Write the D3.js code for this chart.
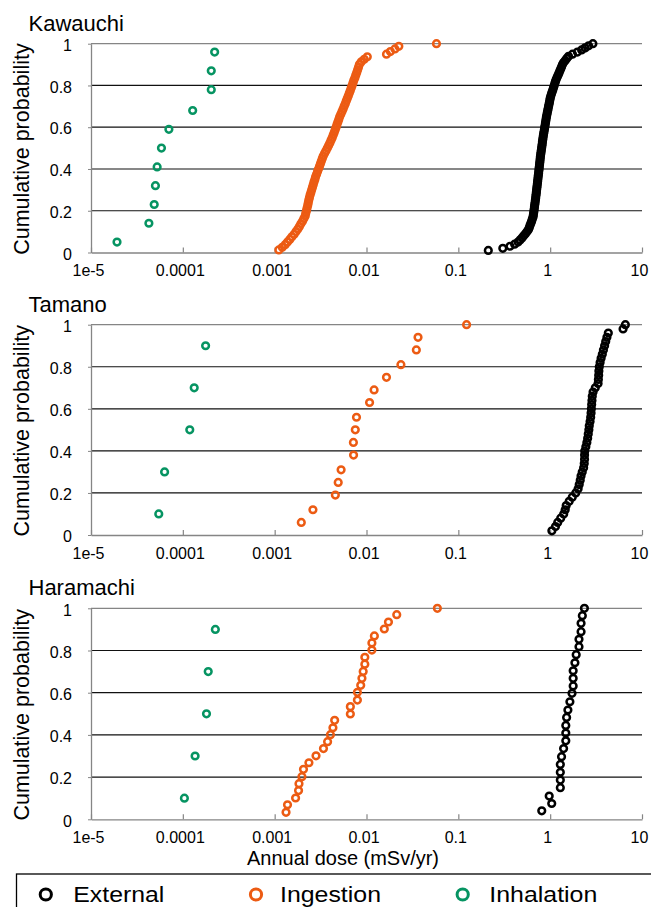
<!DOCTYPE html>
<html>
<head>
<meta charset="utf-8">
<script src="https://cdn.jsdelivr.net/npm/d3@7"></script>
<style>
  body { margin: 0; background: #fff; }
  text { font-family: "Liberation Sans", Arial, sans-serif; }
</style>
</head>
<body>
<script>
// axis ticks and labels
const xTicks = [1e-5, 1e-4, 1e-3, 0.01, 0.1, 1, 10];
const xTickLabels = ["1e-5", "0.0001", "0.001", "0.01", "0.1", "1", "10"];
const yTicks = [0, 0.2, 0.4, 0.6, 0.8, 1];
const yTickLabels = ["0", "0.2", "0.4", "0.6", "0.8", "1"];

const sites = ["Kawauchi", "Tamano", "Haramachi"];
const pathways = ["External", "Ingestion", "Inhalation"];
const pathwayColors = ["#000000", "#ec5b13", "#069462"];

// ---- Kawauchi (dense series: cumulative probability comes from the rank)
const kawauchiExternal = [
  0.212,0.305,0.365,0.41,0.447,0.47,0.493,0.515,0.538,0.561,
  0.581,0.593,0.604,0.616,0.628,0.639,0.651,0.656,0.661,0.666,
  0.671,0.675,0.680,0.685,0.690,0.695,0.699,0.704,0.708,0.712,
  0.717,0.721,0.726,0.730,0.734,0.739,0.743,0.748,0.752,0.757,
  0.761,0.766,0.770,0.775,0.779,0.783,0.789,0.795,0.801,0.807,
  0.813,0.819,0.824,0.830,0.836,0.843,0.850,0.858,0.866,0.873,
  0.881,0.888,0.896,0.904,0.911,0.921,0.931,0.941,0.951,0.961,
  0.972,0.982,0.992,1.002,1.015,1.034,1.052,1.07,1.088,1.107,
  1.125,1.143,1.165,1.193,1.221,1.248,1.276,1.304,1.332,1.36,
  1.40,1.46,1.52,1.585,1.75,1.98,2.2,2.4,2.62,2.92];
const kawauchiIngestion = [
  0.00111,0.00121,0.00130,0.00138,0.00146,0.00154,0.00163,0.00171,0.00179,0.00186,
  0.00193,0.00201,0.00208,0.00215,0.00218,0.00222,0.00225,0.00229,0.00232,0.00235,
  0.00239,0.00243,0.00248,0.00253,0.00258,0.00263,0.00268,0.00274,0.00279,0.00286,
  0.00293,0.00300,0.00308,0.00315,0.00322,0.00330,0.00338,0.00350,0.00362,0.00375,
  0.00387,0.00399,0.00411,0.00423,0.00434,0.00445,0.00456,0.00467,0.00477,0.00488,
  0.00499,0.00510,0.00525,0.00541,0.00556,0.00571,0.00587,0.00602,0.00617,0.00633,
  0.00649,0.00665,0.00681,0.00697,0.00713,0.00728,0.00748,0.00765,0.00783,0.00801,
  0.00818,0.00836,0.00874,0.00945,0.0102,0.0165,0.0182,0.0204,0.0225,0.0578];
const kawauchiInhalation = [1.92e-5,4.27e-5,4.88e-5,5.03e-5,5.25e-5,5.85e-5,7.05e-5,1.28e-4,2.04e-4,2.04e-4,2.22e-4];
const kawauchiInhalationProb = [0.05,0.14,0.23,0.32,0.41,0.50,0.59,0.68,0.78,0.87,0.96];

// ---- Tamano
const tamanoExternal = [
  1.044,1.143,1.208,1.302,1.404,1.458,1.495,1.612,1.739,1.898,
  2.016,2.072,2.125,2.168,2.234,2.314,2.350,2.368,2.370,2.380,
  2.447,2.509,2.560,2.599,2.639,2.666,2.720,2.761,2.789,2.810,
  2.831,2.852,2.874,2.932,3.099,3.324,3.349,3.375,3.392,3.427,
  3.497,3.586,3.696,3.800,3.916,4.025,4.149,4.297,6.220,6.590];
const tamanoIngestion = [0.00195,0.00261,0.00458,0.00492,0.00529,0.00723,0.0072,0.00755,0.00778,0.0108,0.0121,0.0165,0.0237,0.0349,0.0364,0.123];
const tamanoIngestionProb = [0.06,0.12,0.19,0.25,0.31,0.38,0.44,0.50,0.56,0.63,0.69,0.75,0.81,0.88,0.94,1.0];
const tamanoInhalation = [5.47e-5,6.33e-5,1.19e-4,1.33e-4,1.77e-4];
const tamanoInhalationProb = [0.1,0.3,0.5,0.7,0.9];

// ---- Haramachi
const haramachiExternal = [0.81,1.04,0.976,1.29,1.29,1.29,1.29,1.33,1.40,1.48,1.48,1.48,1.51,1.56,1.64,1.73,1.78,1.78,1.78,1.86,1.92,2.06,2.06,2.17,2.17,2.24,2.36];
const haramachiExternalProb = [0.04,0.075,0.11,0.15,0.186,0.223,0.26,0.297,0.335,0.372,0.409,0.445,0.483,0.518,0.557,0.597,0.632,0.668,0.704,0.742,0.78,0.818,0.853,0.889,0.929,0.965,1.0];
const haramachiIngestion = [0.00133,0.00138,0.00169,0.00182,0.00184,0.00198,0.00206,0.00236,0.00282,0.0034,0.00377,0.00405,0.00431,0.0045,0.00667,0.00667,0.00796,0.00796,0.00865,0.00892,0.0092,0.00959,0.00959,0.01145,0.01145,0.01218,0.01563,0.01734,0.02135,0.0591];
const haramachiIngestionProb = [0.033,0.069,0.101,0.136,0.169,0.202,0.237,0.268,0.301,0.335,0.368,0.401,0.434,0.469,0.499,0.534,0.565,0.602,0.635,0.668,0.701,0.735,0.768,0.802,0.836,0.869,0.902,0.935,0.97,1.0];
const haramachiInhalation = [1.04e-4,1.36e-4,1.81e-4,1.89e-4,2.26e-4];
const haramachiInhalationProb = [0.1,0.3,0.5,0.7,0.9];

// empirical cumulative probability (rank / n) for the sorted dense series
function rankProb(doses){
  return doses.map(function(d, i){ return (i + 1) / doses.length; });
}
function pairs(doses, probs){
  return doses.map(function(d, i){ return {dose: d, p: probs[i]}; });
}

const panelData = [
  [pairs(kawauchiExternal, rankProb(kawauchiExternal)),
   pairs(kawauchiIngestion, rankProb(kawauchiIngestion)),
   pairs(kawauchiInhalation, kawauchiInhalationProb)],
  [pairs(tamanoExternal, rankProb(tamanoExternal)),
   pairs(tamanoIngestion, tamanoIngestionProb),
   pairs(tamanoInhalation, tamanoInhalationProb)],
  [pairs(haramachiExternal, haramachiExternalProb),
   pairs(haramachiIngestion, haramachiIngestionProb),
   pairs(haramachiInhalation, haramachiInhalationProb)]
];

// layout
const W = 651, H = 907;
const panelTop = [43.7, 324.7, 608.3];
const panelBottom = [252.5, 535, 819.3];
const axisGray = "#858585";

const svg = d3.select("body").append("svg")
    .attr("width", W)
    .attr("height", H);

const x = d3.scaleLog().domain([1e-5, 10]).range([91, 642]);

panelData.forEach(function(series, k){
  const y = d3.scaleLinear().domain([0, 1]).range([panelBottom[k], panelTop[k]]);
  const g = svg.append("g");

  //gridlines (inner ones black, top one gray)
  g.selectAll(".grid").data(yTicks.slice(1)).enter().append("line")
      .attr("x1", x.range()[0]).attr("x2", x.range()[1])
      .attr("y1", function(d){ return y(d); })
      .attr("y2", function(d){ return y(d); })
      .attr("stroke", function(d){ return d === 1 ? axisGray : "#111"; })
      .attr("stroke-width", 1.2);

  //x axis, ticks pointing up into the plot
  const xAxis = g.append("g")
      .attr("transform", "translate(0," + y(0) + ")")
      .call(d3.axisBottom(x)
          .tickValues(xTicks)
          .tickFormat(function(d, i){ return xTickLabels[i]; })
          .tickSizeInner(-5)
          .tickSizeOuter(0)
          .tickPadding(12.6));
  xAxis.select(".domain").attr("stroke", axisGray).attr("stroke-width", 1.3);
  xAxis.selectAll(".tick line").attr("stroke", axisGray).attr("stroke-width", 1.2);
  xAxis.selectAll(".tick text")
      .attr("font-size", 16)
      .attr("font-family", "Liberation Sans, Arial, sans-serif")
      .attr("fill", "#000")
      .attr("dx", -3);

  //y axis
  const yAxis = g.append("g")
      .attr("transform", "translate(" + x.range()[0] + ",0)")
      .call(d3.axisLeft(y)
          .tickValues(yTicks)
          .tickFormat(function(d, i){ return yTickLabels[i]; })
          .tickSizeInner(3)
          .tickSizeOuter(0)
          .tickPadding(16));
  yAxis.select(".domain").attr("stroke", axisGray).attr("stroke-width", 1.3);
  yAxis.selectAll(".tick line").attr("stroke", axisGray);
  yAxis.selectAll(".tick text")
      .attr("font-size", 16)
      .attr("font-family", "Liberation Sans, Arial, sans-serif")
      .attr("fill", "#000")
      .attr("dy", "0.42em");

  //y axis title
  svg.append("text")
      .attr("transform", "translate(29," + ((panelTop[k] + panelBottom[k]) / 2 + 1) + ") rotate(-90)")
      .attr("text-anchor", "middle")
      .attr("font-size", 21.5)
      .text("Cumulative probability");

  //site title
  svg.append("text")
      .attr("x", 28.5)
      .attr("y", panelTop[k] - 13)
      .attr("font-size", 22)
      .text(sites[k]);

  //the markers: open circles
  series.forEach(function(points, s){
    g.append("g").selectAll("circle").data(points).enter().append("circle")
        .attr("cx", function(d){ return x(d.dose); })
        .attr("cy", function(d){ return y(d.p); })
        .attr("r", 3.35)
        .attr("fill", "none")
        .attr("stroke", pathwayColors[s])
        .attr("stroke-width", 2.5);
  });
});

// x axis title (only under the last panel)
svg.append("text")
    .attr("x", 247)
    .attr("y", 865)
    .attr("font-size", 19.5)
    .attr("textLength", 192)
    .attr("lengthAdjust", "spacingAndGlyphs")
    .text("Annual dose (mSv/yr)");

// legend box, cut by the right and bottom edges like the reference
const legendMarkerX = [45.8, 256, 462.7];
const legendTextX = [73.3, 280, 489.3];
const legendTextLen = [91, 101, 108];

svg.append("rect")
    .attr("x", 16.5).attr("y", 874)
    .attr("width", 700).attr("height", 60)
    .attr("fill", "none")
    .attr("stroke", "#000")
    .attr("stroke-width", 1.3);

const legend = svg.append("g").selectAll("g").data(pathways).enter().append("g");
legend.append("circle")
    .attr("cx", function(d, i){ return legendMarkerX[i]; })
    .attr("cy", 894.5)
    .attr("r", 5.6)
    .attr("fill", "none")
    .attr("stroke", function(d, i){ return pathwayColors[i]; })
    .attr("stroke-width", 3);
legend.append("text")
    .attr("x", function(d, i){ return legendTextX[i]; })
    .attr("y", 902)
    .attr("font-size", 22)
    .attr("textLength", function(d, i){ return legendTextLen[i]; })
    .attr("lengthAdjust", "spacingAndGlyphs")
    .text(function(d){ return d; });
</script>
</body>
</html>
